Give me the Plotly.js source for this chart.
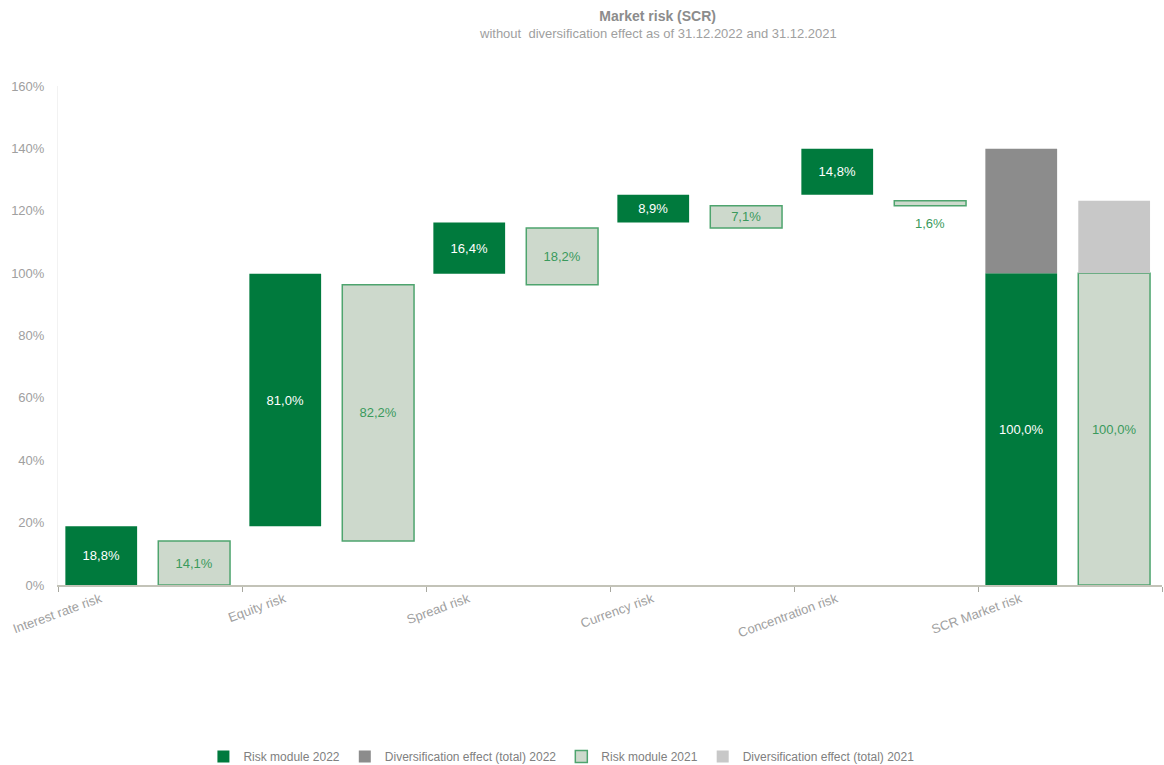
<!DOCTYPE html>
<html>
<head>
<meta charset="utf-8">
<script src="https://cdn.plot.ly/plotly-3.0.1.min.js"></script>
<style>html,body{margin:0;padding:0;background:#fff}#chart{width:1164px;height:765px}</style>
</head>
<body>
<div id="chart"></div>
<script>
const categories = ['Interest rate risk','Equity risk','Spread risk','Currency risk','Concentration risk','SCR Market risk'];
const risk2022 = [18.8, 81.0, 16.4, 8.9, 14.8, 100.0];
const risk2021 = [14.1, 82.2, 18.2, 7.1, 1.6, 100.0];
const div2022 = [null, null, null, null, null, 39.9];
const div2021 = [null, null, null, null, null, 23.2];
const yTicks = [0, 20, 40, 60, 80, 100, 120, 140, 160];
const titleText = 'Market risk (SCR)';
const subtitleText = 'without\u00a0 diversification effect as of 31.12.2022 and 31.12.2021';

const idx = categories.map((c, i) => i);
const last = categories.length - 1;
function bases(vals) {
  let cum = 0;
  return vals.map((v, i) => { if (i === last) return 0; const b = cum; cum += v; return b; });
}
const fmt = v => v.toFixed(1).replace('.', ',') + '%';
const base2022 = bases(risk2022);
const base2021 = bases(risk2021);
const divBase2022 = risk2022.map((v, i) => i === last ? v : null);
const divBase2021 = risk2021.map((v, i) => i === last ? v : null);

const W = 0.39;
const dark = '#007A3D', light = '#CDD9CC', lightLine = '#4EA46E', lightText = '#3A9A5C';
const gray = '#8C8C8C', lgray = '#C8C8C8', txt = '#A0A0A0';

const traces = [
  {type:'bar', name:'Risk module 2022', x: idx, y: risk2022, base: base2022, width: W, offset: -0.46,
   marker:{color: dark, line:{width:0}}, text: risk2022.map(fmt),
   textposition: risk2022.map(v => v < 3 ? 'none' : 'inside'), insidetextanchor:'middle',
   textfont:{color:'#ffffff', size:13}, hoverinfo:'skip'},
  {type:'bar', name:'Diversification effect (total) 2022', x: idx, y: div2022, base: divBase2022, width: W, offset: -0.46,
   marker:{color: gray, line:{width:0}}, hoverinfo:'skip'},
  {type:'bar', name:'Risk module 2021', x: idx, y: risk2021, base: base2021, width: W, offset: 0.045,
   marker:{color: light, line:{width:1.5, color: lightLine}}, text: risk2021.map(fmt),
   textposition: risk2021.map(v => v < 3 ? 'none' : 'inside'), insidetextanchor:'middle',
   textfont:{color: lightText, size:13}, hoverinfo:'skip'},
  {type:'bar', name:'Diversification effect (total) 2021', x: idx, y: div2021, base: divBase2021, width: W, offset: 0.045,
   marker:{color: lgray, line:{width:0}}, hoverinfo:'skip'}
];

const annotations = [
  {xref:'paper', yref:'paper', x: 0.5435, y: 1.106, text: subtitleText, showarrow:false,
   xanchor:'center', yanchor:'middle', font:{size:13, color:'#A0A0A0'}}
];
risk2021.forEach((v, i) => {
  if (v < 3) annotations.push({x: i + 0.045 + W/2, y: base2021[i], xref:'x', yref:'y', text: fmt(v),
    showarrow:false, yanchor:'top', yshift:-8, font:{color: lightText, size:13}});
});
risk2022.forEach((v, i) => {
  if (v < 3) annotations.push({x: i - 0.46 + W/2, y: base2022[i], xref:'x', yref:'y', text: fmt(v),
    showarrow:false, yanchor:'top', yshift:-8, font:{color: dark, size:13}});
});

const layout = {
  width: 1164, height: 765,
  margin: {l: 58, r: 2, t: 86, b: 180},
  paper_bgcolor:'#ffffff', plot_bgcolor:'#ffffff',
  font: {family:'"Liberation Sans", Arial, sans-serif', color: txt, size: 13},
  title: {
    text: '<b>' + titleText + '</b>',
    font: {size: 14, color: '#8C8C8C'},
    x: 0.565, xref:'container', xanchor:'center',
    y: 0.979, yref:'container', yanchor:'middle'
  },
  barmode: 'overlay',
  showlegend: true,
  legend: {orientation:'h', x: 0.456, xref:'paper', xanchor:'center', y: 0.011, yref:'container', yanchor:'middle',
    font:{size:12, color:'#808080'}, traceorder:'normal', itemwidth: 30},
  xaxis: {
    range: [-0.5, last + 0.5], automargin:false,
    tickmode:'array', tickvals: idx.map(i => i - 0.27), ticktext: categories,
    tickangle: -20, ticks:'', tickfont:{size:13, color: txt},
    showgrid:false, zeroline:false, showline:true, linecolor:'#C3C3B8', linewidth:1.5,
    minor: {tickmode:'array', tickvals: idx.concat([last + 1]).map(i => i - 0.5), ticks:'outside', ticklen:5, tickcolor:'#A8A8A0', tickwidth:1, showgrid:false},
    fixedrange:true
  },
  yaxis: {
    range: [0, 160], automargin:false, tickmode:'array', tickvals: yTicks, ticktext: yTicks.map(v => v + '%'),
    showgrid:false, zeroline:false, showline:true, linecolor:'#F2F2F2', linewidth:1,
    ticks:'', ticklabelstandoff: 10, tickfont:{size:13, color: txt}, fixedrange:true
  },
  annotations: annotations
};

Plotly.newPlot('chart', traces, layout, {displayModeBar:false, staticPlot:true});
</script>
</body>
</html>
